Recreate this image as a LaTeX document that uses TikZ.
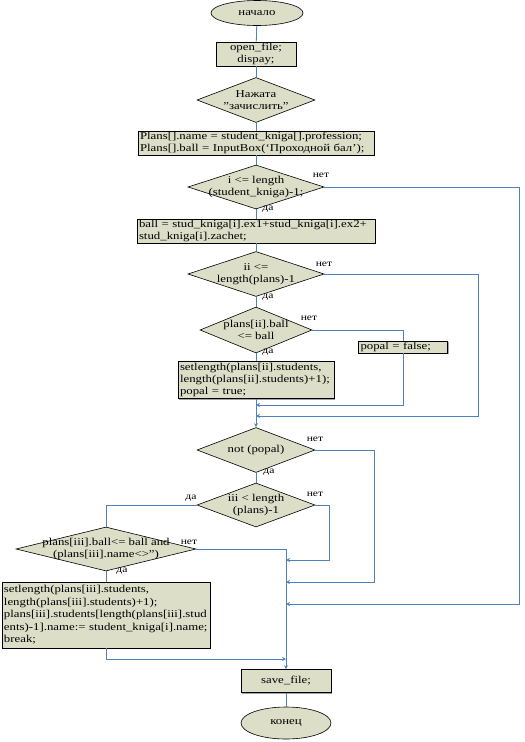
\documentclass[tikz,border=0pt]{standalone}
\usepackage{fontspec}
\setmainfont{Liberation Serif}[FakeStretch=1.22]
\usetikzlibrary{shapes.geometric}
\usetikzlibrary{arrows.meta}
\usetikzlibrary{shadows}

\definecolor{boxfill}{RGB}{220,222,200}
\definecolor{flowline}{RGB}{79,129,189}

\begin{document}
\begin{tikzpicture}[x=1pt, y=-1pt,
    every node/.style={font=\fontsize{10.5}{12}\selectfont},
    term/.style={ellipse, draw, fill=boxfill, line width=0.6pt, minimum width=92pt, minimum height=25pt, inner sep=0pt},
    proc/.style={rectangle, draw, fill=boxfill, line width=0.6pt, inner xsep=2pt, inner ysep=1pt, align=center,
      drop shadow={shadow xshift=1pt, shadow yshift=-1pt, fill=black!45, opacity=0.8}},
    dec/.style={diamond, draw, fill=boxfill, line width=0.6pt, inner sep=0pt},
    dtext/.style={label={[align=center]center:#1}},
    edge label/.style={font=\fontsize{9.5}{11}\selectfont, inner sep=0pt},
    flow/.style={draw=flowline, line width=0.8pt},
    flowin/.style={flow, -{Stealth[length=4pt, width=4pt]}},
  ]
  \useasboundingbox[fill=white] (0,0) rectangle (525,742);

  \node[term] (start) at (257,13) {начало};
  \node[proc, minimum width=80pt, minimum height=24pt] (open) at (256,54) {open\_file;\\dispay;};
  \node[dec, minimum width=118pt, minimum height=45pt, dtext={Нажата\\"зачислить"}] (press) at (256,100) {};
  \node[proc, text width=232pt, align=left, minimum height=24pt] (plans) at (256,143)
    {Plans[].name = student\_kniga[].profession;\\Plans[].ball = InputBox(`Проходной бал');};
  \node[dec, minimum width=136pt, minimum height=44pt, dtext={i <= length\\(student\_kniga)-1;}] (condi) at (256,187) {};
  \node[proc, text width=234pt, align=left, minimum height=24pt] (ball) at (256,231)
    {ball = stud\_kniga[i].ex1+stud\_kniga[i].ex2+\\stud\_kniga[i].zachet;};
  \node[dec, minimum width=136pt, minimum height=45pt, dtext={ii <=\\length(plans)-1}] (condii) at (256,274) {};
  \node[dec, minimum width=112pt, minimum height=46pt, dtext={plans[ii].ball\\<= ball}] (condball) at (256,330) {};
  \node[proc, text width=85pt, align=left, minimum height=12pt] (popalf) at (403,347) {popal = false;};
  \node[proc, text width=152pt, align=left, minimum height=37pt] (setone) at (256,380)
    {setlength(plans[ii].students,\\length(plans[ii].students)+1);\\popal = true;};
  \node[dec, minimum width=118pt, minimum height=45pt, dtext={not (popal)}] (notpopal) at (256,450) {};
  \node[dec, minimum width=118pt, minimum height=44pt, dtext={iii < length\\(plans)-1}] (condiii) at (256,505) {};
  \node[dec, minimum width=180pt, minimum height=44pt, dtext={plans[iii].ball<= ball and\\(plans[iii].name<>")}] (ballb) at (106,549) {};
  \node[proc, text width=204pt, align=left, minimum height=66pt, font=\fontsize{10.5}{12.5}\selectfont] (settwo) at (106,615)
    {setlength(plans[iii].students,\\length(plans[iii].students)+1);\\plans[iii].students[length(plans[iii].stud\\ents)-1].name:= student\_kniga[i].name;\\break;};
  \node[proc, minimum width=90pt, minimum height=23pt] (save) at (286,681) {save\_file;};
  \node[term, minimum width=90pt, minimum height=32pt] (finish) at (286,723) {конец};

  % turning points and joins
  \coordinate (mA) at (256,405);
  \coordinate (mB) at (256,416);
  \coordinate (jA) at (286,560);
  \coordinate (jB) at (286,582);
  \coordinate (jC) at (286,604);
  \coordinate (jD) at (286,659);
  \coordinate (rI) at (519,187);
  \coordinate (rII) at (478,274);
  \coordinate (rNot) at (374,450);
  \coordinate (rIII) at (329,505);

  \draw[flow] (start) -- (open);
  \draw[flow] (open) -- (press);
  \draw[flow] (press) -- (plans);
  \draw[flow] (plans) -- (condi);
  \draw[flow] (condi) -- (ball);
  \draw[flow] (ball) -- (condii);
  \draw[flow] (condii) -- (condball);
  \draw[flow] (condball) -- (setone);
  \draw[flowin] (setone) -- (notpopal);
  \draw[flow] (condball.east) -| (popalf.north);
  \draw[flowin] (popalf.south) |- (mA);
  \draw[flowin] (condii.east) -- (rII) |- (mB);
  \draw[flowin] (condi.east) -- (rI) |- (jC);
  \draw[flow] (notpopal) -- (condiii);
  \draw[flowin] (notpopal.east) -- (rNot) |- (jB);
  \draw[flowin] (condiii.east) -- (rIII) |- (jA);
  \draw[flow] (condiii.west) -| (ballb.north);
  \draw[flow] (ballb) -- (settwo);
  \draw[flowin] (ballb.east) -| (save.north);
  \draw[flowin] (settwo.south) |- (jD);
  \draw[flow] (save) -- (finish);

  \node[edge label] (noI) at (321,175) {нет};
  \node[edge label] (yesI) at (268,209) {да};
  \node[edge label] (noII) at (324,264) {нет};
  \node[edge label] (yesII) at (268,297) {да};
  \node[edge label] (noBall) at (309,318) {нет};
  \node[edge label] (yesBall) at (268,352) {да};
  \node[edge label] (noNot) at (315,439) {нет};
  \node[edge label] (yesNot) at (269,472) {да};
  \node[edge label] (noIII) at (315,494) {нет};
  \node[edge label] (yesIII) at (191,498) {да};
  \node[edge label] (noBallB) at (189,542) {нет};
  \node[edge label] (yesBallB) at (122,571) {да};
\end{tikzpicture}
\end{document}
